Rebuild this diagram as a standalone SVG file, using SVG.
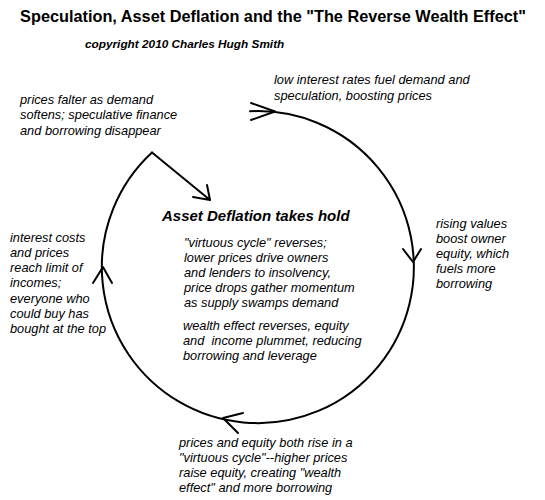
<svg xmlns="http://www.w3.org/2000/svg" width="545" height="500" viewBox="0 0 545 500">
<style>
text{font-family:"Liberation Sans",Arial,sans-serif;fill:#000}
.t{font-size:12.8px;font-style:italic}
.title{font-size:16.3px;font-weight:bold}
.copy{font-size:11.8px;font-weight:bold;font-style:italic}
.head{font-size:15px;font-weight:bold;font-style:italic}
.ln{fill:none;stroke:#000;stroke-width:2;stroke-linecap:round;stroke-linejoin:round}
</style>
<rect width="545" height="500" fill="#fff"/>
<g id="title">
<text class="title" x="273" y="22" text-anchor="middle">Speculation, Asset Deflation and the "The Reverse Wealth Effect"</text>
<text class="copy" x="85" y="48">copyright 2010 Charles Hugh Smith</text>
</g>
<g id="connectors">
<path class="ln" d="M250,111.3 A156,156 0 1 1 152,152.5"/>
<path class="ln" d="M152,152.5 L210,200 M193,197 L210,200 L207,185"/>
<path class="ln" d="M251,103 L275,111.5 L251,120"/>
<path class="ln" d="M403,249 L413,262 L421,249"/>
<path class="ln" d="M243,413 L223,418 L238,433"/>
<path class="ln" d="M93,283 L103,267 L112,283"/>
</g>
<g id="falter">
<text class="t" x="20" y="104">prices falter as demand</text>
<text class="t" x="20" y="119">softens; speculative finance</text>
<text class="t" x="20" y="135">and borrowing disappear</text>
</g>
<g id="low">
<text class="t" x="274" y="84">low interest rates fuel demand and</text>
<text class="t" x="274" y="100">speculation, boosting prices</text>
</g>
<g id="rising">
<text class="t" x="436" y="228">rising values</text>
<text class="t" x="436" y="243">boost owner</text>
<text class="t" x="436" y="258">equity, which</text>
<text class="t" x="436" y="273">fuels more</text>
<text class="t" x="436" y="288">borrowing</text>
</g>
<g id="interest">
<text class="t" x="10" y="242">interest costs</text>
<text class="t" x="10" y="257">and prices</text>
<text class="t" x="10" y="272">reach limit of</text>
<text class="t" x="10" y="287">incomes;</text>
<text class="t" x="10" y="303">everyone who</text>
<text class="t" x="10" y="318">could buy has</text>
<text class="t" x="10" y="333">bought at the top</text>
</g>
<g id="center">
<text class="head" x="162" y="221">Asset Deflation takes hold</text>
<text class="t" x="184" y="247">"virtuous cycle" reverses;</text>
<text class="t" x="184" y="262">lower prices drive owners</text>
<text class="t" x="184" y="277">and lenders to insolvency,</text>
<text class="t" x="184" y="292">price drops gather momentum</text>
<text class="t" x="184" y="307">as supply swamps demand</text>
<text class="t" x="183" y="330">wealth effect reverses, equity</text>
<text class="t" x="183" y="345" xml:space="preserve">and  income plummet, reducing</text>
<text class="t" x="183" y="360">borrowing and leverage</text>
</g>
<g id="prices">
<text class="t" x="179" y="447">prices and equity both rise in a</text>
<text class="t" x="179" y="462">"virtuous cycle"--higher prices</text>
<text class="t" x="179" y="477">raise equity, creating "wealth</text>
<text class="t" x="179" y="492">effect" and more borrowing</text>
</g>
</svg>
